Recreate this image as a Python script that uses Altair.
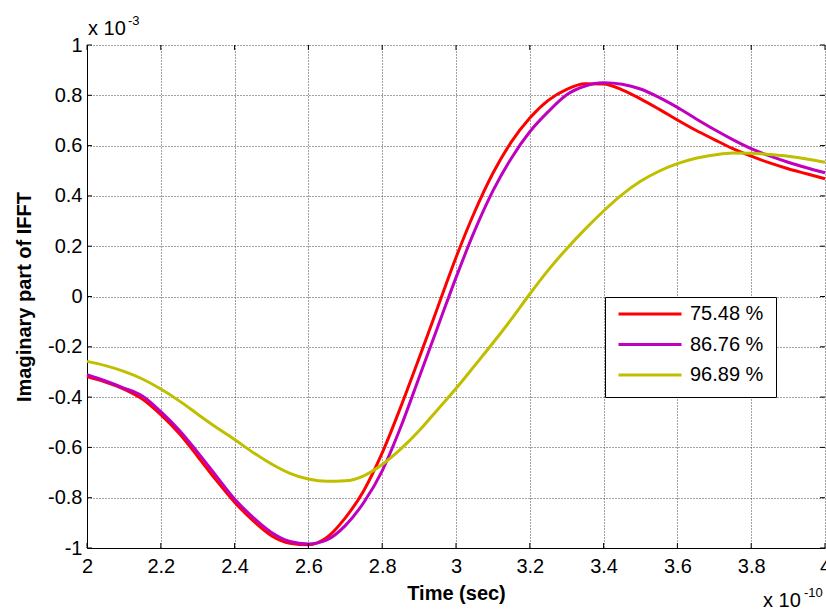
import altair as alt
import pandas as pd

# ---- data (values in units of 1e-3, time in units of 1e-10 s) ----
t = [2.00, 2.05, 2.10, 2.15, 2.20, 2.25, 2.30, 2.35, 2.40, 2.45,
     2.50, 2.55, 2.60, 2.65, 2.70, 2.75, 2.80, 2.85, 2.90, 2.95,
     3.00, 3.05, 3.10, 3.15, 3.20, 3.25, 3.30, 3.35, 3.40, 3.45,
     3.50, 3.55, 3.60, 3.65, 3.70, 3.75, 3.80, 3.85, 3.90, 3.95, 4.00]

red = [-0.318, -0.340, -0.368, -0.408, -0.470, -0.545, -0.636, -0.730, -0.818, -0.891,
       -0.951, -0.981, -0.987, -0.958, -0.880, -0.772, -0.622, -0.440, -0.245, -0.045,
       0.155, 0.335, 0.490, 0.615, 0.710, 0.780, 0.824, 0.846, 0.845, 0.822,
       0.786, 0.745, 0.702, 0.661, 0.624, 0.588, 0.558, 0.531, 0.508, 0.488, 0.468]

magenta = [-0.311, -0.336, -0.364, -0.396, -0.458, -0.532, -0.620, -0.713, -0.805, -0.878,
           -0.938, -0.974, -0.984, -0.968, -0.911, -0.819, -0.693, -0.520, -0.322, -0.123,
           0.075, 0.260, 0.420, 0.550, 0.655, 0.735, 0.802, 0.837, 0.850, 0.844,
           0.825, 0.792, 0.752, 0.707, 0.664, 0.624, 0.588, 0.559, 0.534, 0.512, 0.492]

yellow = [-0.258, -0.275, -0.298, -0.328, -0.368, -0.415, -0.468, -0.520, -0.569, -0.620,
          -0.666, -0.703, -0.726, -0.735, -0.733, -0.713, -0.668, -0.607, -0.534, -0.450,
          -0.366, -0.276, -0.185, -0.090, 0.010, 0.105, 0.190, 0.268, 0.340, 0.405,
          0.458, 0.498, 0.528, 0.550, 0.563, 0.571, 0.570, 0.565, 0.558, 0.547, 0.534]

series_labels = ["75.48 %", "86.76 %", "96.89 %"]
series_colors = ["#ff0000", "#bf00bf", "#bfbf00"]

x_ticks = [2.0, 2.2, 2.4, 2.6, 2.8, 3.0, 3.2, 3.4, 3.6, 3.8, 4.0]
y_ticks = [-1.0, -0.8, -0.6, -0.4, -0.2, 0.0, 0.2, 0.4, 0.6, 0.8, 1.0]

x_title = "Time (sec)"
y_title = "Imaginary part of IFFT"
y_mult = ["x 10", "-3"]
x_mult = ["x 10", "-10"]

# ---- build table ----
rows = []
for name, vals in zip(series_labels, [red, magenta, yellow]):
    for tt, v in zip(t, vals):
        rows.append({"t": tt, "v": v, "series": name})
df = pd.DataFrame(rows)

W, H = 738, 503
FONT = "Liberation Sans"

xs = alt.Scale(domain=[2, 4], nice=False, zero=False)
ys = alt.Scale(domain=[-1, 1], nice=False, zero=False)

label_expr = "datum.value < 0 ? '-' + format(-datum.value, '~g') : format(datum.value, '~g')"

common_axis = dict(
    labelFont=FONT, labelFontSize=20, labelColor="black",
    titleFont=FONT, titleFontSize=20, titleFontWeight="bold", titleColor="black",
    ticks=False, domainColor="black", domainWidth=1,
    grid=True, gridColor="#444444", gridDash=[1, 2], gridWidth=1,
    labelExpr=label_expr, labelOverlap=False,
)

xaxis = alt.Axis(values=x_ticks, title=x_title, labelFlush=False, labelPadding=8,
                 titlePadding=7, labelBound=False, **common_axis)
yaxis = alt.Axis(values=y_ticks, title=y_title, labelPadding=5, titlePadding=13,
                 **common_axis)

X = alt.X("t:Q", scale=xs, axis=xaxis)
Y = alt.Y("v:Q", scale=ys, axis=yaxis)

lines = alt.Chart(df).mark_line(strokeWidth=3, interpolate="monotone").encode(
    x=X, y=Y,
    color=alt.Color(
        "series:N",
        scale=alt.Scale(domain=series_labels, range=series_colors),
        legend=alt.Legend(
            title=None, orient="none", legendX=518, legendY=252,
            fillColor="white", strokeColor="black", padding=12,
            symbolType="stroke", symbolSize=3969, symbolStrokeWidth=3,
            labelFont=FONT, labelFontSize=20, labelColor="black",
            clipHeight=10, rowPadding=10.5, labelOffset=7,
        ),
    ),
)

ytick_df = pd.DataFrame({"v": y_ticks})
xtick_df = pd.DataFrame({"t": x_ticks})

left_ticks = alt.Chart(ytick_df).mark_rule(color="black", strokeWidth=1).encode(
    y=Y, x=alt.value(0), x2=alt.value(5))
right_ticks = alt.Chart(ytick_df).mark_rule(color="black", strokeWidth=1).encode(
    y=Y, x=alt.value(W - 5), x2=alt.value(W))
bottom_ticks = alt.Chart(xtick_df).mark_rule(color="black", strokeWidth=1).encode(
    x=X, y=alt.value(H), y2=alt.value(H - 5))
top_ticks = alt.Chart(xtick_df).mark_rule(color="black", strokeWidth=1).encode(
    x=X, y=alt.value(0), y2=alt.value(5))


def txt(s, x, y, size):
    return alt.Chart(pd.DataFrame({"s": [s]})).mark_text(
        font=FONT, fontSize=size, color="black", align="left", baseline="alphabetic"
    ).encode(text="s:N", x=alt.value(x), y=alt.value(y))


annots = [
    txt(y_mult[0], 1, -10, 20),
    txt(y_mult[1], 41, -20, 13),
    txt(x_mult[0], 676, 562, 20),
    txt(x_mult[1], 717, 552, 13),
]

chart = alt.layer(lines, left_ticks, right_ticks, bottom_ticks, top_ticks, *annots).properties(
    width=W, height=H,
    padding={"left": 87, "top": 45, "right": 1, "bottom": 66},
    autosize=alt.AutoSizeParams(type="none"),
    background="white",
).configure_view(stroke=None)

chart.save("out.html", embed_options={"renderer": "svg", "actions": False})
